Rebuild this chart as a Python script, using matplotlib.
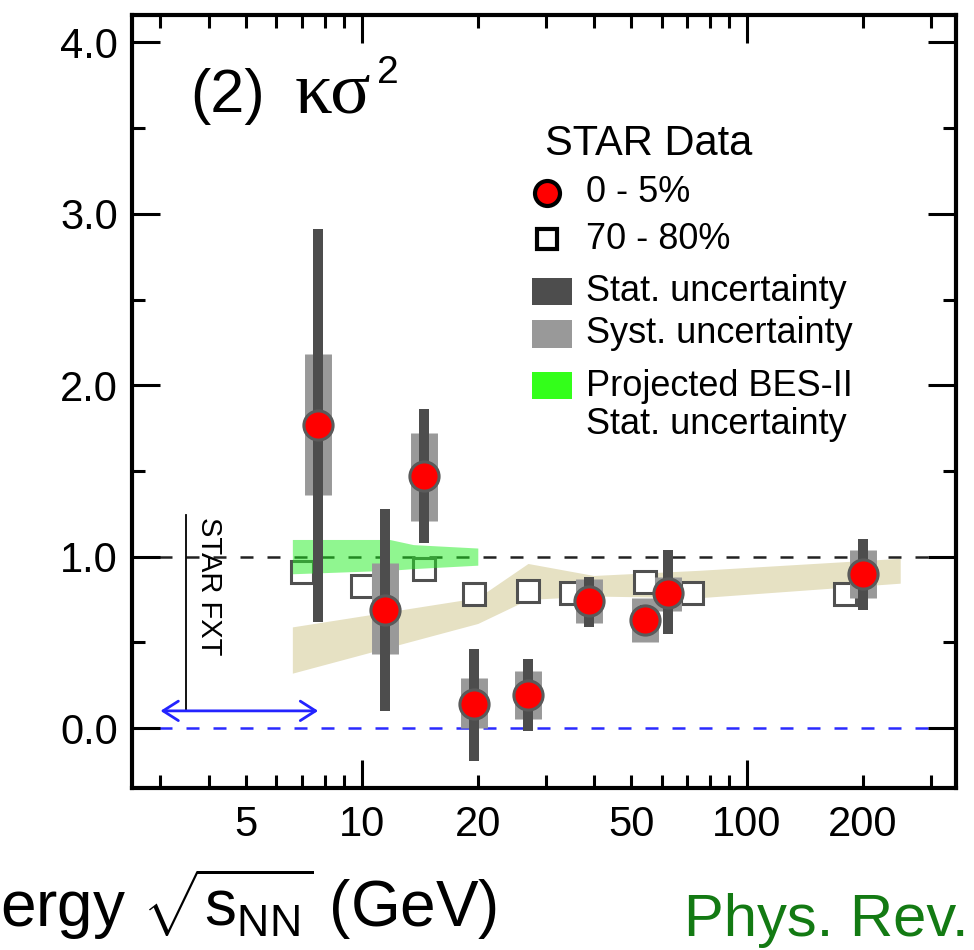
import numpy as np
import matplotlib
matplotlib.use("Agg")
import matplotlib.pyplot as plt
from matplotlib.patches import Rectangle
from matplotlib.ticker import FixedLocator, FuncFormatter

# STAR kappa*sigma^2, 0-5% central
energy = [7.7, 11.5, 14.5, 19.6, 27, 39, 54.4, 62.4, 200]
ks2 = [1.77, 0.69, 1.47, 0.14, 0.19, 0.74, 0.63, 0.79, 0.90]
stat_lo = [0.62, 0.10, 1.08, -0.19, -0.02, 0.59, 0.55, 0.55, 0.69]
stat_hi = [2.91, 1.28, 1.86, 0.46, 0.40, 0.88, 0.72, 1.04, 1.10]
syst_lo = [1.36, 0.43, 1.21, 0.00, 0.05, 0.61, 0.50, 0.68, 0.76]
syst_hi = [2.18, 0.96, 1.72, 0.29, 0.33, 0.87, 0.76, 0.88, 1.04]

# 70-80% peripheral (drawn slightly shifted in x)
periph_x = [7.0, 10.0, 14.5, 19.6, 27, 35, 54.4, 72, 180]
periph_y = [0.91, 0.83, 0.93, 0.78, 0.80, 0.79, 0.85, 0.79, 0.78]

# projected BES-II stat. uncertainty band
bes2_x = [6.6, 11.8, 13.6, 20.0]
bes2_lo = [0.90, 0.92, 0.93, 0.95]
bes2_hi = [1.10, 1.10, 1.07, 1.05]

# model band
model_x = [6.6, 20, 27, 40, 75, 250]
model_lo = [0.32, 0.61, 0.75, 0.77, 0.76, 0.845]
model_hi = [0.59, 0.76, 0.96, 0.89, 0.92, 0.99]

# fixed-target range
fxt_range = [3.0, 7.7]

plt.rcParams["font.family"] = ["Liberation Sans", "DejaVu Sans"]
plt.rcParams["mathtext.fontset"] = "custom"
plt.rcParams["mathtext.rm"] = "Liberation Sans"

fig = plt.figure(figsize=(9.74, 9.5), dpi=100)
ax = fig.add_axes([132 / 974, 1 - 788 / 950, 824 / 974, 773 / 950])
ax.set_xscale("log")
ax.set_xlim(2.53, 349)
ax.set_ylim(-0.35, 4.16)

ax.fill_between(model_x, model_lo, model_hi, color="#e6e1c3", lw=0, zorder=1)
ax.axhline(1.0, color="#222222", lw=1.8, dashes=(5.2, 5.6), zorder=1.5)
ax.axhline(0.0, color="#2a2aff", lw=1.8, dashes=(5.2, 5.6), zorder=1.5)

ax.plot(periph_x, periph_y, "s", ls="none", ms=15.5, mfc="white", mec="#505050",
        mew=2.2, zorder=2)
ax.fill_between(bes2_x, bes2_lo, bes2_hi, color="#22ee22", alpha=0.5, lw=0, zorder=2.5)

ax.vlines(energy, syst_lo, syst_hi, colors="#999999", linewidth=19.4, capstyle="butt", zorder=3)
ax.vlines(energy, stat_lo, stat_hi, colors="#4d4d4d", linewidth=7.2, capstyle="butt", zorder=4)
ax.plot(energy, ks2, "o", ls="none", ms=21, mfc="#ff0000", mec="#5a5a5a", mew=2.2, zorder=5)

# STAR FXT marker
ax.plot([3.5, 3.5], [0.10, 1.24], color="black", lw=1.3, zorder=2)
ax.annotate("", xy=(fxt_range[1], 0.10), xytext=(fxt_range[0], 0.10),
            arrowprops=dict(arrowstyle="<->, head_length=0.55, head_width=0.35",
                            color="#2323ff", lw=2, shrinkA=0, shrinkB=0,
                            mutation_scale=20))
ax.text(4.0, 1.23, "STAR FXT", rotation=-90, ha="center", va="top", fontsize=21)

# ticks
ax.xaxis.set_major_locator(FixedLocator([10, 100]))
ax.xaxis.set_minor_locator(FixedLocator([3, 4, 5, 6, 7, 8, 9, 20, 30, 40, 50, 60, 70, 80, 90, 200, 300]))
ax.xaxis.set_major_formatter(FuncFormatter(lambda v, p: f"{v:g}"))
ax.xaxis.set_minor_formatter(FuncFormatter(lambda v, p: f"{v:g}" if v in (5, 20, 50, 200) else ""))
ax.yaxis.set_major_locator(FixedLocator([0, 1, 2, 3, 4]))
ax.yaxis.set_minor_locator(FixedLocator([0.5, 1.5, 2.5, 3.5]))
ax.yaxis.set_major_formatter(FuncFormatter(lambda v, p: f"{v:.1f}"))

ax.tick_params(which="both", direction="in", top=True, right=True, width=2.2, labelsize=30)
ax.tick_params(which="major", length=20)
ax.tick_params(which="minor", length=9.5)
ax.tick_params(axis="x", which="both", pad=12)
ax.tick_params(axis="y", which="both", pad=10)
for s in ax.spines.values():
    s.set_linewidth(3)

# panel label
ax.text(0.0704, 0.8745, "(2)", transform=ax.transAxes, fontsize=44, va="baseline")
ax.text(0.1975, 0.8745, "κσ", transform=ax.transAxes, fontsize=54, va="baseline",
        family=["Liberation Serif", "DejaVu Serif"])
ax.text(0.297, 0.912, "2", transform=ax.transAxes, fontsize=28, va="baseline")

# legend
tr = ax.transAxes
ax.text(0.501, 0.819, "STAR Data", transform=tr, fontsize=30, va="baseline")
ax.plot([0.5036], [0.770], "o", transform=tr, ms=18, mfc="#ff0000", mec="black", mew=3, clip_on=False)
ax.text(0.551, 0.770, "0 - 5%", transform=tr, fontsize=26, va="center")
ax.plot([0.5036], [0.710], "s", transform=tr, ms=15, mfc="white", mec="black", mew=3, clip_on=False)
ax.text(0.551, 0.710, "70 - 80%", transform=tr, fontsize=26, va="center")
ax.add_patch(Rectangle((0.4854, 0.6248), 0.0485, 0.0349, transform=tr, color="#4d4d4d", lw=0))
ax.text(0.551, 0.6417, "Stat. uncertainty", transform=tr, fontsize=26, va="center")
ax.add_patch(Rectangle((0.4854, 0.5692), 0.0485, 0.0362, transform=tr, color="#999999", lw=0))
ax.text(0.551, 0.5886, "Syst. uncertainty", transform=tr, fontsize=26, va="center")
ax.add_patch(Rectangle((0.4854, 0.5032), 0.0485, 0.0350, transform=tr, color="#33ff1a", lw=0))
ax.text(0.551, 0.5188, "Projected BES-II", transform=tr, fontsize=26, va="center")
ax.text(0.551, 0.4696, "Stat. uncertainty", transform=tr, fontsize=26, va="center")

# cropped axis title and reference
fig.text(0.0, 0.0242, r"ergy $\sqrt{\mathrm{s}_{\mathrm{NN}}}$ (GeV)", fontsize=46,
         va="baseline")
fig.text(0.7023, 0.0145, "Phys. Rev.", fontsize=43, color="#137a13", va="baseline")

fig.savefig("out.png", dpi=100)
